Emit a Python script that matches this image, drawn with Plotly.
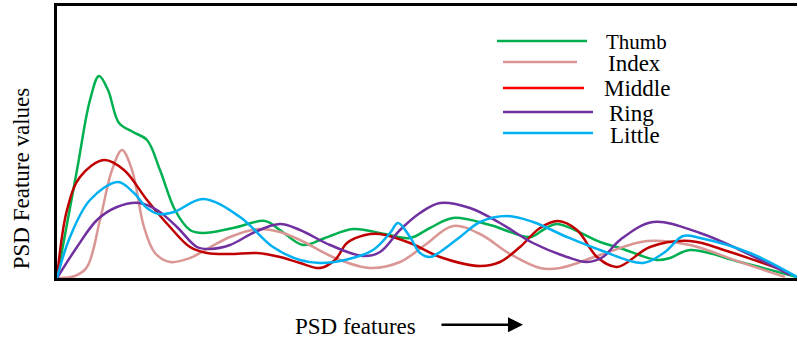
import plotly.graph_objects as go

# PSD feature profiles per finger (feature position, feature value)
thumb_x = [0, 20, 33, 42, 51, 62, 76, 90, 103, 118, 133, 146, 176, 208, 223, 246, 268, 296, 328, 353,
           373, 396, 433, 473, 486, 500, 543, 563, 600, 613, 633, 683, 740]
thumb_y = [0, 108, 178, 202, 188, 155, 146, 138, 108, 68, 48, 45, 50, 57, 48, 33, 40, 49, 44, 40,
           50, 60, 53, 41, 48, 54, 36, 30, 18, 20, 28, 16, 1]

index_x = [0, 18, 30, 43, 55, 65, 75, 87, 98, 113, 133, 150, 173, 201, 223, 243, 278, 313, 343, 368,
           396, 423, 453, 483, 503, 543, 590, 633, 683, 728]
index_y = [0, 2, 11, 58, 108, 128, 108, 51, 25, 16, 20, 29, 41, 49, 46, 38, 20, 10, 16, 33,
           52, 44, 24, 10, 10, 23, 37, 33, 16, 1]

middle_x = [0, 10, 23, 47, 67, 90, 113, 133, 150, 173, 200, 223, 243, 263, 278, 290, 308, 323, 353, 383,
            423, 443, 463, 483, 501, 520, 540, 560, 593, 633, 673, 720]
middle_y = [0, 68, 101, 118, 108, 78, 51, 31, 25, 24, 25, 21, 15, 10, 18, 35, 43, 44, 35, 21,
            12, 16, 31, 50, 57, 48, 21, 11, 31, 37, 26, 10]

ring_x = [0, 20, 40, 60, 82, 100, 120, 140, 153, 173, 198, 223, 243, 273, 306, 323, 343, 363, 383, 413,
          443, 476, 510, 530, 546, 563, 596, 643, 683, 733]
ring_y = [0, 31, 58, 71, 75, 68, 51, 31, 29, 33, 46, 54, 48, 33, 22, 26, 48, 65, 75, 70,
          55, 35, 21, 16, 21, 38, 56, 45, 28, 3]

little_x = [0, 13, 33, 61, 77, 90, 102, 117, 146, 183, 216, 243, 263, 288, 316, 333, 341, 353, 363, 373,
            383, 403, 423, 450, 476, 510, 543, 586, 608, 626, 643, 693, 740]
little_y = [0, 41, 78, 96, 85, 70, 64, 66, 79, 61, 31, 18, 15, 18, 28, 45, 55, 41, 25, 21,
            26, 41, 56, 62, 56, 41, 28, 15, 26, 42, 40, 25, 1]

names = ["Thumb", "Index", "Middle", "Ring", "Little"]
colors = ["#00B050", "#DA9694", "#C00000", "#7030A0", "#00B0F0"]
legend_colors = ["#00B050", "#DA9694", "#FF0000", "#7030A0", "#00B0F0"]
series = [(thumb_x, thumb_y), (index_x, index_y), (middle_x, middle_y),
          (ring_x, ring_y), (little_x, little_y)]

# hand-placed key: line start/end, line height, label x, label y (data units)
key_line_x0 = [440, 446, 446, 446, 446]
key_line_x1 = [530, 520, 527, 536, 536]
key_line_y = [237, 216, 190, 166, 145]
key_text_x = [547, 549, 545, 550, 551]
key_text_y = [236, 215, 190, 165, 143]
key_font = [21, 23, 23, 23, 23]

FONT = "Times New Roman, Liberation Serif, serif"

fig = go.Figure()
for (xs, ys), name, col in zip(series, names, colors):
    fig.add_trace(go.Scatter(x=xs, y=ys, mode="lines", name=name,
                             line=dict(color=col, width=2.5, shape="spline", smoothing=1.0)))

for i, name in enumerate(names):
    fig.add_shape(type="line", xref="x", yref="y",
                  x0=key_line_x0[i], x1=key_line_x1[i], y0=key_line_y[i], y1=key_line_y[i],
                  line=dict(color=legend_colors[i], width=2.5))
    fig.add_annotation(xref="x", yref="y", x=key_text_x[i], y=key_text_y[i], text=name,
                       showarrow=False, xanchor="left", yanchor="middle",
                       font=dict(family=FONT, size=key_font[i], color="black"))

# axis titles
fig.add_annotation(xref="paper", yref="paper", x=-0.047, y=0.364, text="PSD Feature values",
                   textangle=-90, showarrow=False, xanchor="center", yanchor="middle",
                   font=dict(family=FONT, size=23, color="black"))
fig.add_annotation(xref="paper", yref="paper", x=0.4034, y=-0.180, text="PSD features",
                   showarrow=False, xanchor="center", yanchor="middle",
                   font=dict(family=FONT, size=23, color="black"))
# direction arrow next to the x title
fig.add_annotation(xref="paper", yref="paper", x=0.6297, y=-0.172, text="",
                   showarrow=True, ax=-83, ay=0, arrowhead=2, arrowsize=1.2,
                   arrowwidth=2.5, arrowcolor="black", standoff=0)

fig.update_xaxes(range=[0, 740], showline=True, linecolor="black", linewidth=2.5, mirror=True,
                 showticklabels=False, ticks="", showgrid=False, zeroline=False)
fig.update_yaxes(range=[0, 272], showline=True, linecolor="black", linewidth=2.5, mirror=False,
                 showticklabels=False, ticks="", showgrid=False, zeroline=False)

fig.update_layout(width=798, height=339, margin=dict(l=57, r=1, t=6, b=61),
                  plot_bgcolor="white", paper_bgcolor="white", showlegend=False)

fig.write_html("out.html")
